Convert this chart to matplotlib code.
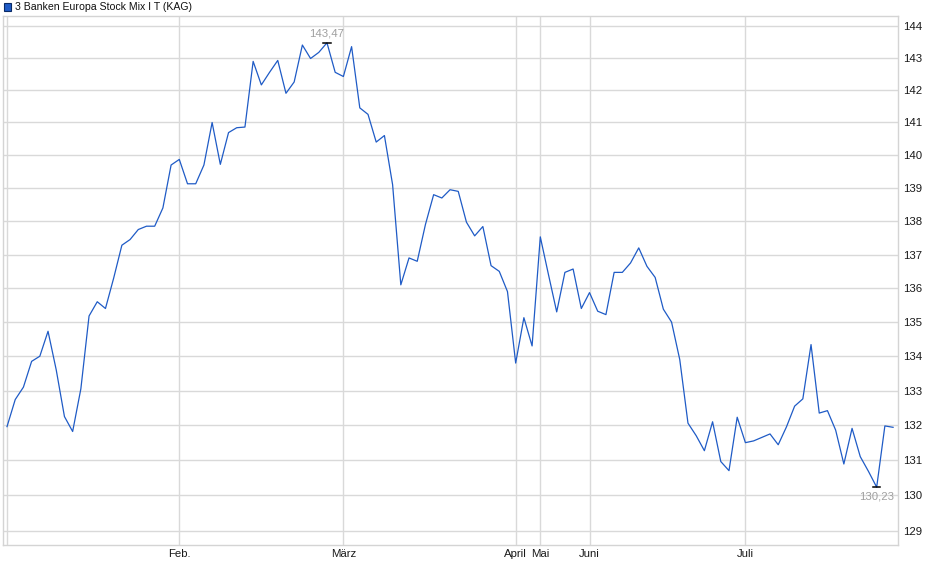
import numpy as np
import matplotlib
matplotlib.use("Agg")
import matplotlib.pyplot as plt
from matplotlib.patches import Rectangle

# daily prices (index based x axis, one step per trading day)
prices = [
    131.96, 132.74, 133.1, 133.85, 134.0, 134.73, 133.6, 132.25, 131.82, 133.05,
    135.18, 135.6, 135.4, 136.3, 137.28, 137.45, 137.75, 137.85, 137.85, 138.4,
    139.7, 139.87, 139.13, 139.13, 139.7, 141.0, 139.72, 140.69, 140.84, 140.86,
    142.89, 142.16, 142.55, 142.92, 141.9, 142.25, 143.4, 142.98, 143.17, 143.47,
    142.55, 142.42, 143.35, 141.45, 141.25, 140.4, 140.6, 139.1, 136.1, 136.9,
    136.8, 137.9, 138.8, 138.7, 138.95, 138.9, 137.97, 137.56, 137.84, 136.67,
    136.5, 135.9, 133.8, 135.13, 134.3, 137.53, 136.4, 135.3, 136.47, 136.57,
    135.4, 135.87, 135.32, 135.22, 136.47, 136.47, 136.75, 137.2, 136.65, 136.32,
    135.38, 135.0, 133.9, 132.06, 131.7, 131.27, 132.1, 130.96, 130.7, 132.23,
    131.5, 131.55, 131.65, 131.75, 131.44, 131.95, 132.55, 132.76, 134.34, 132.35,
    132.42, 131.86, 130.89, 131.91, 131.1, 130.68, 130.23, 131.98, 131.94,
]
month_idx = [0, 21, 41, 62, 65, 71, 90]
month_labels = ["", "Feb.", "März", "April", "Mai", "Juni", "Juli"]
y_ticks = list(range(129, 145))
title = "3 Banken Europa Stock Mix I T (KAG)"

plt.rcParams['font.family'] = ['Liberation Sans', 'DejaVu Sans']

W, H = 940, 579
fig = plt.figure(figsize=(W / 100, H / 100), dpi=100)
ax = fig.add_axes([2.5 / W, 1 - 545 / H, (898 - 2.5) / W, (545 - 16) / H])

x = np.arange(len(prices))
ax.plot(x, prices, color='#1f5bc6', lw=0.9, zorder=3)

ax.set_yscale('log')
ax.set_ylim(128.6, 144.31)
ax.set_xlim(-0.55, len(prices) - 1 + 0.6)

ax.yaxis.tick_right()
ax.set_yticks(y_ticks)
ax.set_yticklabels([str(t) for t in y_ticks])
ax.yaxis.set_minor_locator(matplotlib.ticker.NullLocator())
ax.set_xticks(month_idx)
ax.set_xticklabels(month_labels)
ax.tick_params(axis='both', length=0, labelsize=8.2, colors='#1a1a1a')
ax.tick_params(axis='y', pad=4)
ax.tick_params(axis='x', pad=3)

ax.grid(True, color='#d9d9d9', lw=1)
for s in ax.spines.values():
    s.set_color('#d4d4d4')
    s.set_linewidth(1)

# max / min markers
imax = int(np.argmax(prices))
imin = int(np.argmin(prices))
for i, va, dy in [(imax, 'bottom', 3), (imin, 'top', -3)]:
    ax.plot([i - 0.45, i + 0.45], [prices[i], prices[i]], color='black', lw=1.1, zorder=4)
    ax.annotate(f"{prices[i]:.2f}".replace('.', ','), (i, prices[i]), xytext=(0, dy),
                textcoords='offset points', ha='center', va=va, fontsize=8.2,
                color='#a0a0a0', zorder=5)

# title with legend square
fig.patches.append(Rectangle((3.5 / W, 1 - 10.5 / H), 7 / W, 7 / H, transform=fig.transFigure,
                             facecolor='#1f5bc6', edgecolor='#0a2a66', lw=0.8))
fig.text(15 / W, 1 - 6.5 / H, title, fontsize=7.6, va='center', ha='left', color='#111111')

fig.savefig("out.png", dpi=100)
